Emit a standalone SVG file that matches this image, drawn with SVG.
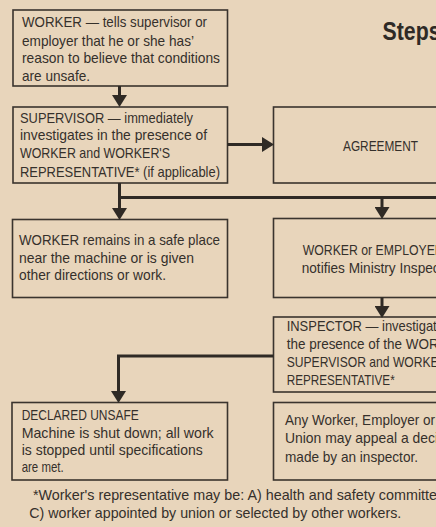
<svg xmlns="http://www.w3.org/2000/svg" width="436" height="527" viewBox="0 0 436 527">
<defs>
<style>
.bg{fill:#e8d5bb}
.box{fill:none;stroke:#3a342e;stroke-width:1.6}
.t{font-family:"Liberation Sans",Arial,sans-serif;font-size:15px;fill:#35302b}
.fn{font-family:"Liberation Sans",Arial,sans-serif;font-size:14.6px;fill:#35302b}
.title{font-family:"Liberation Sans",Arial,sans-serif;font-size:25px;font-weight:bold;fill:#2e2a26}
.c{fill:none;stroke:#2f2a25;stroke-width:3}
</style>
<marker id="ah" markerUnits="userSpaceOnUse" markerWidth="12" markerHeight="15" refX="0" refY="7.5" orient="auto" viewBox="0 0 12 15">
<path d="M0,0 L12,7.5 L0,15 z" fill="#2f2a25"/>
</marker>
</defs>
<rect class="bg" x="0" y="0" width="436" height="527"/>

<g id="title">
<text class="title" x="382.5" y="39.5" textLength="58" lengthAdjust="spacingAndGlyphs">Steps</text>
</g>

<g id="worker-tells">
<rect class="box" x="13" y="10" width="214.5" height="76"/>
<text class="t" x="22" y="27" textLength="185" lengthAdjust="spacingAndGlyphs">WORKER — tells supervisor or</text>
<text class="t" x="22" y="45.5" textLength="172" lengthAdjust="spacingAndGlyphs">employer that he or she has’</text>
<text class="t" x="22" y="63" textLength="198" lengthAdjust="spacingAndGlyphs">reason to believe that conditions</text>
<text class="t" x="22" y="81" textLength="68" lengthAdjust="spacingAndGlyphs">are unsafe.</text>
</g>

<g id="supervisor">
<rect class="box" x="13" y="107" width="214.5" height="76"/>
<text class="t" x="20" y="122.5" textLength="173" lengthAdjust="spacingAndGlyphs">SUPERVISOR — immediately</text>
<text class="t" x="20" y="140" textLength="187" lengthAdjust="spacingAndGlyphs">investigates in the presence of</text>
<text class="t" x="20" y="158" textLength="150" lengthAdjust="spacingAndGlyphs">WORKER and WORKER'S</text>
<text class="t" x="20" y="176.5" textLength="200" lengthAdjust="spacingAndGlyphs">REPRESENTATIVE* (if applicable)</text>
</g>

<g id="agreement">
<rect class="box" x="273.5" y="107" width="190" height="76"/>
<text class="t" x="343" y="151" style="font-size:14px" textLength="75" lengthAdjust="spacingAndGlyphs">AGREEMENT</text>
</g>

<g id="worker-remains">
<rect class="box" x="12.5" y="219.5" width="215" height="78"/>
<text class="t" x="19" y="245" textLength="201" lengthAdjust="spacingAndGlyphs">WORKER remains in a safe place</text>
<text class="t" x="19" y="262.7" textLength="175" lengthAdjust="spacingAndGlyphs">near the machine or is given</text>
<text class="t" x="19" y="280" textLength="147" lengthAdjust="spacingAndGlyphs">other directions or work.</text>
</g>

<g id="notifies">
<rect class="box" x="273.5" y="218.5" width="190" height="79"/>
<text class="t" x="302.7" y="255" textLength="141" lengthAdjust="spacingAndGlyphs">WORKER or EMPLOYER</text>
<text class="t" x="301.7" y="273.3" textLength="138" lengthAdjust="spacingAndGlyphs">notifies Ministry Inspec</text>
</g>

<g id="inspector">
<rect class="box" x="273.5" y="317" width="190" height="75"/>
<text class="t" x="286.7" y="331" textLength="150" lengthAdjust="spacingAndGlyphs">INSPECTOR — investigat</text>
<text class="t" x="286.7" y="349.3" textLength="152" lengthAdjust="spacingAndGlyphs">the presence of the WOR</text>
<text class="t" x="286.7" y="367" textLength="152" lengthAdjust="spacingAndGlyphs">SUPERVISOR and WORKE</text>
<text class="t" x="286.7" y="385" textLength="108" lengthAdjust="spacingAndGlyphs">REPRESENTATIVE*</text>
</g>

<g id="declared-unsafe">
<rect class="box" x="12" y="402.5" width="215.5" height="77.5"/>
<text class="t" x="21.7" y="420" textLength="117" lengthAdjust="spacingAndGlyphs">DECLARED UNSAFE</text>
<text class="t" x="21.7" y="438" textLength="192" lengthAdjust="spacingAndGlyphs">Machine is shut down; all work</text>
<text class="t" x="21.7" y="455" textLength="181" lengthAdjust="spacingAndGlyphs">is stopped until specifications</text>
<text class="t" x="21.7" y="472" textLength="42" lengthAdjust="spacingAndGlyphs">are met.</text>
</g>

<g id="appeal">
<rect class="box" x="273.5" y="402.5" width="190" height="77.5"/>
<text class="t" x="285" y="425" textLength="150" lengthAdjust="spacingAndGlyphs">Any Worker, Employer or</text>
<text class="t" x="285" y="443.3" textLength="153" lengthAdjust="spacingAndGlyphs">Union may appeal a deci</text>
<text class="t" x="285" y="461.7" textLength="133" lengthAdjust="spacingAndGlyphs">made by an inspector.</text>
</g>

<g id="footnote">
<text class="fn" x="33" y="500" textLength="404" lengthAdjust="spacingAndGlyphs">*Worker's representative may be: A) health and safety committe</text>
<text class="fn" x="29.3" y="518.3" textLength="372" lengthAdjust="spacingAndGlyphs">C) worker appointed by union or selected by other workers.</text>
</g>

<g id="connectors">
<path class="c" d="M119.5,86 V95" marker-end="url(#ah)"/>
<path class="c" d="M227.5,144.5 H262" marker-end="url(#ah)"/>
<path class="c" d="M119.5,183 V208" marker-end="url(#ah)"/>
<path class="c" d="M118,197.5 H436"/>
<path class="c" d="M382,197.5 V207" marker-end="url(#ah)"/>
<path class="c" d="M382,297.5 V306" marker-end="url(#ah)"/>
<path class="c" d="M273.5,356 H118.5 V391" marker-end="url(#ah)"/>
</g>
</svg>
